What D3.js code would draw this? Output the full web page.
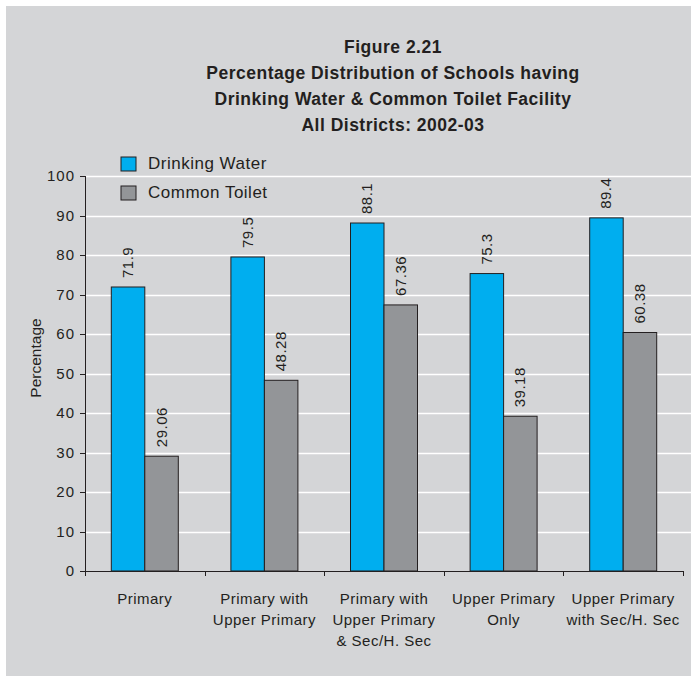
<!DOCTYPE html>
<html>
<head>
<meta charset="utf-8">
<title>Figure 2.21</title>
<style>
  body { margin: 0; background: #fff; }
  text { font-family: "Liberation Sans", Arial, sans-serif; fill: #231f20; }
  .title { font-weight: bold; font-size: 17.5px; letter-spacing: 0.5px; }
  .axis path, .axis line { stroke: #231f20; shape-rendering: crispEdges; }
  .axis text { font-size: 15px; letter-spacing: 1px; fill: #231f20; }
  .grid line { stroke: #fff; stroke-width: 1.3; }
</style>
</head>
<body>
<svg width="691" height="676"></svg>
<script src="https://cdnjs.cloudflare.com/ajax/libs/d3/7.8.5/d3.min.js"></script>
<script>
// data
var categories = [
  ["Primary"],
  ["Primary with", "Upper Primary"],
  ["Primary with", "Upper Primary", "& Sec/H. Sec"],
  ["Upper Primary", "Only"],
  ["Upper Primary", "with Sec/H. Sec"]
];
var drinkingWater = [71.9, 79.5, 88.1, 75.3, 89.4];
var commonToilet = [29.06, 48.28, 67.36, 39.18, 60.38];
var seriesNames = ["Drinking Water", "Common Toilet"];
var seriesColors = ["#00aeef", "#939598"];
var yTicks = [0, 10, 20, 30, 40, 50, 60, 70, 80, 90, 100];
var titleLines = [
  "Figure 2.21",
  "Percentage Distribution of Schools having",
  "Drinking Water & Common Toilet Facility",
  "All Districts: 2002-03"
];

var svg = d3.select("svg");

// background panel
svg.append("rect").attr("x", 6).attr("y", 6).attr("width", 685).attr("height", 670)
  .attr("fill", "#d4d5d7");

var plotL = 85, plotR = 683, plotT = 176, plotB = 571;

var x0 = d3.scaleBand().domain(d3.range(categories.length)).range([plotL, plotR]);
var x1 = d3.scaleBand().domain([0, 1]).range([0, 67]);
var y = d3.scaleLinear().domain([0, 100]).range([plotB, plotT]);

// title
svg.append("g").selectAll("text").data(titleLines).join("text")
  .attr("class", "title")
  .attr("x", 393).attr("y", (d, i) => 53 + i * 26)
  .attr("text-anchor", "middle")
  .text(d => d);

// gridlines
svg.append("g").attr("class", "grid").selectAll("line")
  .data(yTicks.filter(d => d > 0)).join("line")
  .attr("x1", plotL).attr("x2", 691)
  .attr("y1", d => Math.round(y(d)) + 0.5).attr("y2", d => Math.round(y(d)) + 0.5);

// bars
var groups = svg.append("g").selectAll("g")
  .data(categories.map((c, i) => [drinkingWater[i], commonToilet[i]]))
  .join("g")
  .attr("transform", (d, i) => "translate(" + (x0(i) + (x0.bandwidth() - 67) / 2) + ",0)");

groups.selectAll("rect").data(d => d).join("rect")
  .attr("x", (d, j) => x1(j))
  .attr("y", d => y(d))
  .attr("width", x1.bandwidth())
  .attr("height", d => plotB - y(d))
  .attr("fill", (d, j) => seriesColors[j])
  .attr("stroke", "#231f20")
  .attr("stroke-width", 1);

groups.selectAll("text").data(d => d).join("text")
  .attr("transform", (d, j) => "translate(" + (x1(j) + x1.bandwidth() / 2 + 5) + "," + (y(d) - 9) + ") rotate(-90)")
  .attr("font-size", "15px")
  .attr("letter-spacing", "0.5px")
  .text(d => d);

// axes
var yAxis = d3.axisLeft(y).tickValues(yTicks).tickSize(5).tickPadding(5);
svg.append("g").attr("class", "axis").attr("transform", "translate(" + plotL + ",0)").call(yAxis);

var xAxis = d3.axisBottom(d3.scaleLinear().domain([0, categories.length]).range([plotL, plotR]))
  .ticks(categories.length).tickSize(5).tickFormat("");
svg.append("g").attr("class", "axis").attr("transform", "translate(0," + plotB + ")").call(xAxis);

// category labels
svg.append("g").selectAll("text").data(categories).join("text")
  .attr("x", (d, i) => x0(i) + x0.bandwidth() / 2)
  .attr("y", 604)
  .attr("text-anchor", "middle")
  .attr("font-size", "15px")
  .attr("letter-spacing", "0.5px")
  .selectAll("tspan").data(d => d).join("tspan")
  .attr("x", function() { return d3.select(this.parentNode).attr("x"); })
  .attr("dy", (d, k) => k === 0 ? 0 : 21)
  .text(d => d);

// y label
svg.append("text")
  .attr("transform", "translate(41,358) rotate(-90)")
  .attr("text-anchor", "middle")
  .attr("font-size", "15.5px")
  .text("Percentage");

// legend
var legend = svg.append("g").selectAll("g").data(seriesNames).join("g")
  .attr("transform", (d, i) => "translate(121," + (157 + i * 29) + ")");
legend.append("rect").attr("width", 15).attr("height", 14)
  .attr("fill", (d, i) => seriesColors[i]).attr("stroke", "#231f20");
legend.append("text").attr("x", 27).attr("y", 12).attr("font-size", "17px")
  .attr("letter-spacing", "0.5px").text(d => d);
</script>
</body>
</html>
